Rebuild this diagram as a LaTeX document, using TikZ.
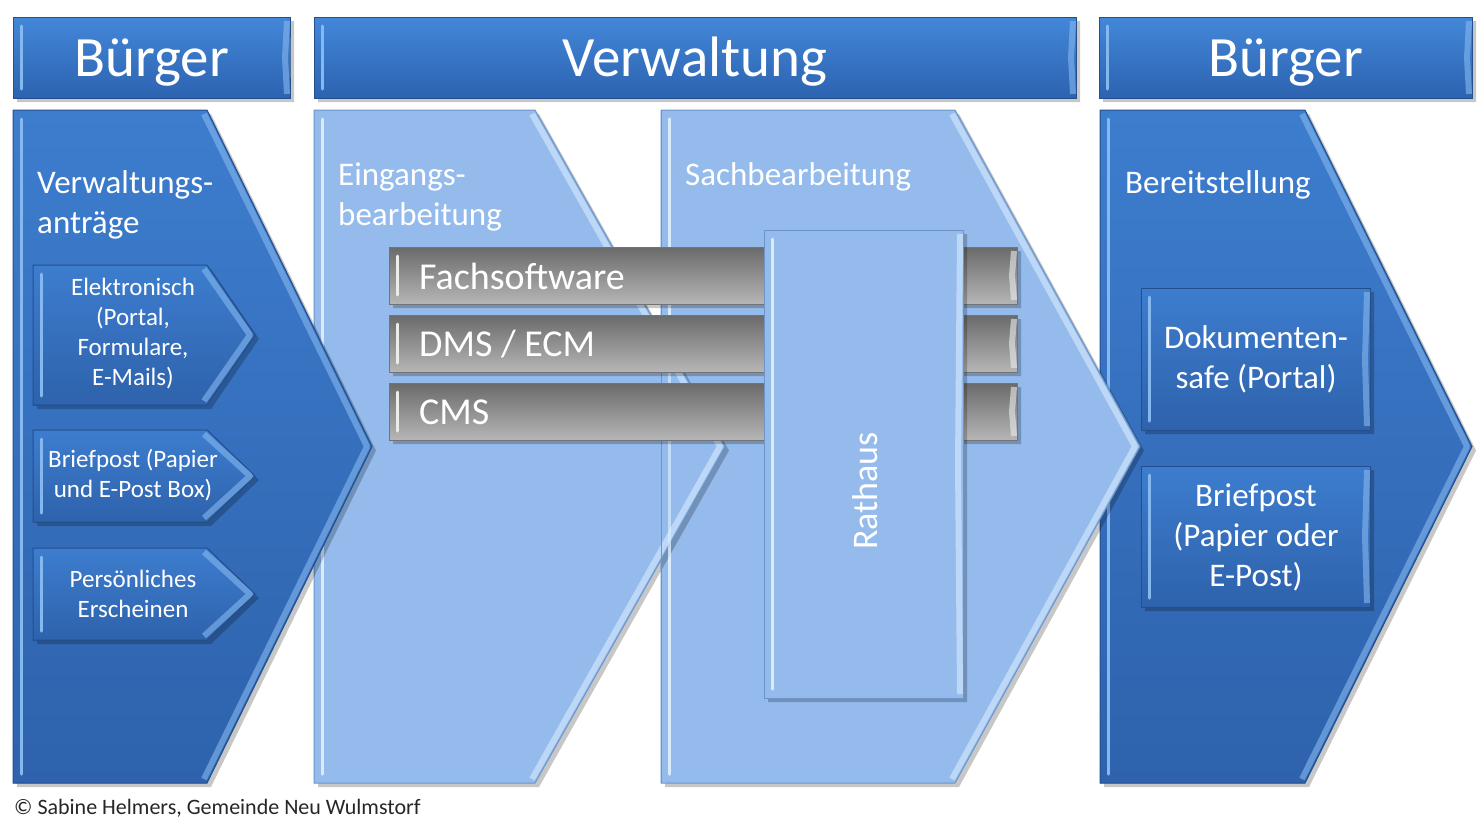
\documentclass[tikz,border=0pt]{standalone}
\usepackage{fontspec}
\setmainfont{Carlito}
\usepackage{tikz}

\definecolor{hdtop}{HTML}{4387D9}
\definecolor{hdbot}{HTML}{2C63B0}
\definecolor{dkblue}{HTML}{3D7DCE}
\definecolor{dkblue2}{HTML}{2E62AC}
\definecolor{dkline}{HTML}{23508C}
\definecolor{dkhigh}{HTML}{86B8F0}
\definecolor{ltblue}{HTML}{94BBEC}
\definecolor{ltline}{HTML}{6C94C8}
\definecolor{lthigh}{HTML}{D8ECFE}
\definecolor{bartop}{HTML}{6A6A6A}
\definecolor{barbot}{HTML}{B6B6B6}

% #1 look, #2 bevel colour, then x1,y1,x2,y2 and the x of the tip
\newcommand{\arrowbox}[7]{%
  \fill[black,opacity=.22] (#3+4,#4+4) -- (#5+4,#4+4) -- (#7+4,{(#4+#6)/2+4}) -- (#5+4,#6+4) -- (#3+4,#6+4) -- cycle;
  \filldraw[#1] (#3,#4) -- (#5,#4) -- (#7,{(#4+#6)/2}) -- (#5,#6) -- (#3,#6) -- cycle;
  \draw[#2,line width=3pt,line cap=round] (#3+8,#4+9) -- (#3+8,#6-9);
  \draw[#2,line width=6pt,line join=round,opacity=.6] (#5-3,#4+4) -- (#7-5,{(#4+#6)/2}) -- (#5-3,#6-4);
}

\begin{document}
\begin{tikzpicture}[x=1pt,y=-1pt,
  dark/.style={top color=dkblue,bottom color=dkblue2,draw=dkline,line width=1pt},
  head/.style={top color=hdtop,bottom color=hdbot,draw=dkline,line width=1pt},
  light/.style={fill=ltblue,draw=ltline,line width=1pt},
  bar/.style={top color=bartop,bottom color=barbot,draw=black!55,line width=1pt},
  headtext/.style={text=white,font=\fontsize{57}{60}\selectfont,anchor=base},
  steptext/.style={text=white,font=\fontsize{33}{40}\selectfont,align=left,anchor=west,inner sep=0pt},
  subtext/.style={text=white,font=\fontsize{25}{30}\selectfont,align=center},
  outtext/.style={text=white,font=\fontsize{33}{40}\selectfont,align=center},
  bartext/.style={text=white,font=\fontsize{38}{40}\selectfont,anchor=west,inner sep=0pt}]
  \useasboundingbox (0,0) rectangle (1482,835);

  % headers
  \arrowbox{head}{dkhigh}{13}{17}{290}{98}{290}
  \arrowbox{head}{dkhigh}{314}{17}{1076}{98}{1076}
  \arrowbox{head}{dkhigh}{1099}{17}{1472}{98}{1472}
  \node (buerger1) at (151.5,76) [headtext] {Bürger};
  \node (verw) at (695,76) [headtext] {Verwaltung};
  \node (buerger2) at (1285.5,76) [headtext] {Bürger};

  % big steps, right to left so each tip lies on the next one
  \arrowbox{dark}{dkhigh}{1100}{110}{1305}{783}{1472}
  \arrowbox{light}{lthigh}{661}{110}{955}{783}{1140}
  \arrowbox{light}{lthigh}{314}{110}{535}{783}{725}
  \draw[ltline,line width=1pt] (661,110) -- (661,783);
  \draw[lthigh,line width=3pt,line cap=round,opacity=.7] (669,119) -- (669,774);
  \arrowbox{dark}{dkhigh}{13}{110}{207}{783}{372}

  \node (antraege) at (37,205) [steptext] {Verwaltungs-\\anträge};
  \node (eingang) at (338,197) [steptext] {Eingangs-\\bearbeitung};
  \node (sach) at (685,177) [steptext] {Sachbearbeitung};
  \node (bereit) at (1125,185) [steptext] {Bereitstellung};

  % software
  \arrowbox{bar}{white!85!gray}{389}{247}{1017}{304}{1017}
  \arrowbox{bar}{white!85!gray}{389}{315}{1017}{372}{1017}
  \arrowbox{bar}{white!85!gray}{389}{383}{1017}{440}{1017}
  \node (fach) at (419,276) [bartext] {Fachsoftware};
  \node (dms) at (419,344) [bartext] {DMS / ECM};
  \node (cms) at (419,412) [bartext] {CMS};

  \arrowbox{light}{lthigh}{764}{230}{963}{698}{963}
  \node (rathaus) at (865,491) [text=white,font=\fontsize{36}{40}\selectfont,rotate=90] {Rathaus};

  % input channels
  \arrowbox{dark}{dkhigh}{33}{265}{207}{405}{255}
  \arrowbox{dark}{dkhigh}{33}{430}{207}{522}{255}
  \arrowbox{dark}{dkhigh}{33}{548}{207}{640}{255}
  \node (elektro) at (133,334) [subtext] {Elektronisch\\(Portal,\\Formulare,\\E-Mails)};
  \node (brief1) at (133,475) [subtext] {Briefpost (Papier\\und E-Post Box)};
  \node (pers) at (133,594) [subtext] {Persönliches\\Erscheinen};

  % output channels
  \arrowbox{dark}{dkhigh}{1141}{288}{1370}{430}{1370}
  \arrowbox{dark}{dkhigh}{1141}{466}{1370}{607}{1370}
  \node (safe) at (1256,359) [outtext] {Dokumenten-\\safe (Portal)};
  \node (brief2) at (1256,537) [outtext] {Briefpost\\(Papier oder\\E-Post)};

  \node (copy) at (14,808) [anchor=west,inner sep=0pt,font=\fontsize{22}{26}\selectfont,text=black!85] {© Sabine Helmers, Gemeinde Neu Wulmstorf};
\end{tikzpicture}
\end{document}
